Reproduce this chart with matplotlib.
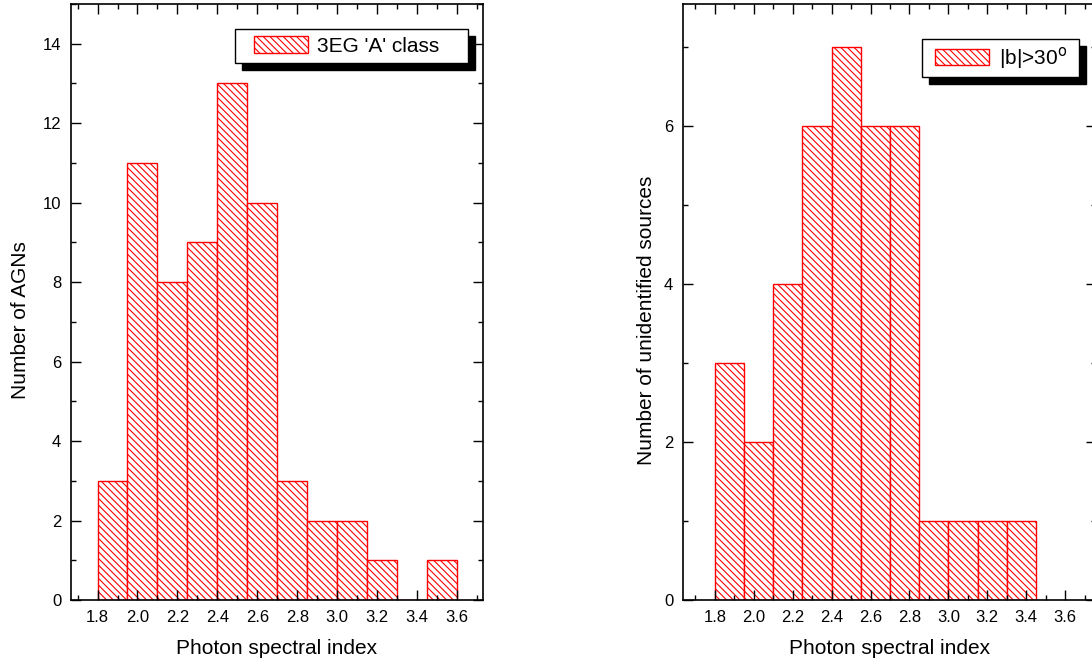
import matplotlib
matplotlib.use("Agg")
import matplotlib.pyplot as plt
from matplotlib.patches import Rectangle
from matplotlib.ticker import MultipleLocator

# histogram data: left bin edges (photon spectral index) and counts
bin_width = 0.15
agn_bins = [1.80, 1.95, 2.10, 2.25, 2.40, 2.55, 2.70, 2.85, 3.00, 3.15, 3.30, 3.45]
agn_counts = [3, 11, 8, 9, 13, 10, 3, 2, 2, 1, 0, 1]

unid_bins = [1.80, 1.95, 2.10, 2.25, 2.40, 2.55, 2.70, 2.85, 3.00, 3.15, 3.30]
unid_counts = [3, 2, 4, 6, 7, 6, 6, 1, 1, 1, 1]

x_ticks = [1.8, 2.0, 2.2, 2.4, 2.6, 2.8, 3.0, 3.2, 3.4, 3.6]
x_ticklabels = ['1.8', '2.0', '2.2', '2.4', '2.6', '2.8', '3.0', '3.2', '3.4', '3.6']

HATCH = '\\' * 5

plt.rcParams['font.family'] = ['Liberation Sans', 'DejaVu Sans']
plt.rcParams['hatch.linewidth'] = 0.8
plt.rcParams['hatch.color'] = 'red'

fig = plt.figure(figsize=(10.92, 6.62), dpi=100)
ax1 = fig.add_axes([0.065, 0.0937, 0.3773, 0.9003])
ax2 = fig.add_axes([0.6255, 0.0937, 0.3785, 0.9003])


def style_axis(ax, xlim, ylim, ymajor, yminor):
    ax.set_xlim(*xlim)
    ax.set_ylim(*ylim)
    ax.xaxis.set_minor_locator(MultipleLocator(0.1))
    ax.yaxis.set_major_locator(MultipleLocator(ymajor))
    ax.yaxis.set_minor_locator(MultipleLocator(yminor))
    ax.tick_params(which='both', direction='in', top=True, right=True,
                   width=1.0, labelsize=12, pad=7)
    ax.tick_params(which='major', length=7)
    ax.tick_params(which='minor', length=3.5)
    for sp in ax.spines.values():
        sp.set_linewidth(1.2)
    ax.set_xticks(x_ticks)
    ax.set_xticklabels(x_ticklabels)
    ax.set_xlabel('Photon spectral index', fontsize=15, labelpad=10)


def boxed_legend(ax, frame, anchor, dx=7, dy=7):
    # legend content without frame, then an opaque box with a black drop shadow
    leg = ax.legend(loc='center left', bbox_to_anchor=anchor, borderaxespad=0,
                    frameon=False, fontsize=15, handlelength=2.6,
                    handleheight=0.82, borderpad=0, handletextpad=0.45)
    leg.set_zorder(5)
    x0, y0, x1, y1 = frame
    ax.add_patch(Rectangle((x0, y0), x1 - x0, y1 - y0, transform=ax.transAxes,
                           facecolor='white', edgecolor='black', linewidth=1.0,
                           zorder=4.8, clip_on=False))
    fig.canvas.draw()
    inv = ax.transAxes.inverted()
    p0 = ax.transAxes.transform((x0, y0))
    p1 = ax.transAxes.transform((x1, y1))
    s0 = inv.transform((p0[0] + dx, p0[1] - dy))
    s1 = inv.transform((p1[0] + dx, p1[1] - dy))
    ax.add_patch(Rectangle(tuple(s0), s1[0] - s0[0], s1[1] - s0[1],
                           transform=ax.transAxes, facecolor='black',
                           edgecolor='black', zorder=4.7, clip_on=False))
    return leg


# left panel: 3EG 'A' class AGNs
ax1.bar(agn_bins, agn_counts, width=bin_width, align='edge',
        facecolor='white', edgecolor='red', linewidth=1.0, hatch=HATCH,
        label="3EG 'A' class")
style_axis(ax1, (1.667, 3.73), (0, 15), 2, 1)
ax1.set_ylabel('Number of AGNs', fontsize=15, labelpad=9, y=0.47)

# right panel: unidentified sources at |b|>30
ax2.bar(unid_bins, unid_counts, width=bin_width, align='edge',
        facecolor='white', edgecolor='red', linewidth=1.0, hatch=HATCH,
        label=r'|b|>30$^{\rm o}$')
style_axis(ax2, (1.637, 3.76), (0, 7.55), 2, 1)
ax2.set_ylabel('Number of unidentified sources', fontsize=15, labelpad=6, y=0.47)

boxed_legend(ax1, (0.398, 0.901, 0.9636, 0.958), (0.444, 0.9295))
boxed_legend(ax2, (0.5787, 0.8775, 0.9588, 0.9413), (0.610, 0.9094))

fig.savefig('out.png', dpi=100)
